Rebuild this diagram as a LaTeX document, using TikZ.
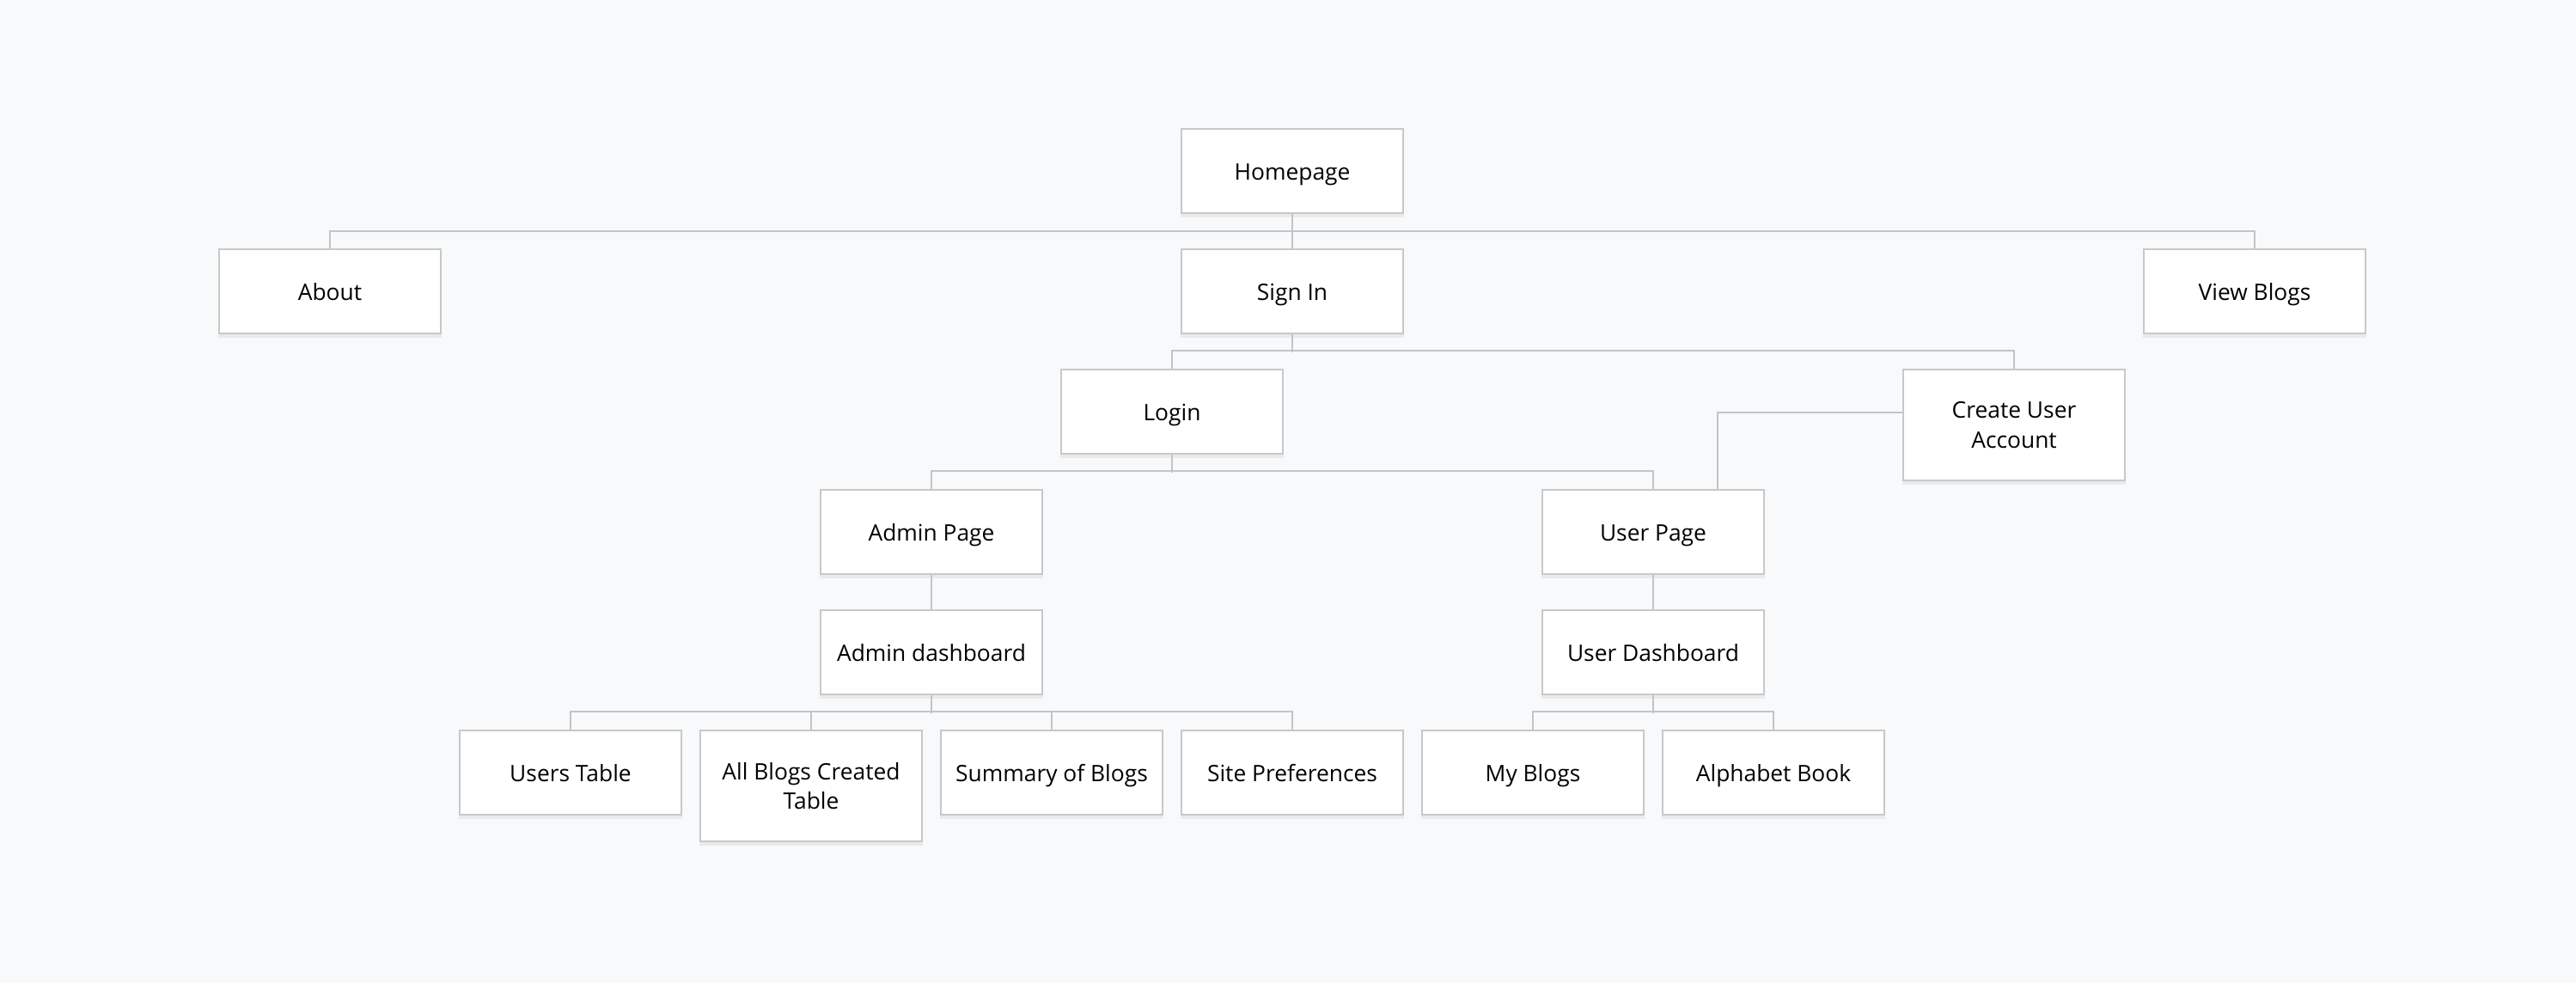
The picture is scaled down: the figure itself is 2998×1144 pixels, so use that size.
\documentclass[tikz,border=0pt]{standalone}
\usepackage{fontspec}
\setmainfont{Open Sans}
\usetikzlibrary{shadows}
\definecolor{pagebg}{HTML}{F8F9FB}
\definecolor{boxline}{HTML}{C8C8C8}
\definecolor{linkline}{HTML}{C4C4C4}
\tikzset{
  boxbase/.style={draw=boxline, line width=0.6pt, fill=white, anchor=north,
    minimum width=2.58cm, align=center,
    font=\fontsize{7.5pt}{9.9pt}\selectfont,
    drop shadow={shadow xshift=0pt, shadow yshift=-1.3pt, shadow scale=1.01, fill=black, opacity=0.06}},
  pagebox/.style={boxbase, minimum height=0.98cm, text height=8pt, text depth=2pt},
  tallbox/.style={boxbase, minimum height=1.29cm},
  link/.style={draw=linkline, line width=0.6pt}
}
\begin{document}
\begin{tikzpicture}[x=0.01cm,y=-0.01cm]
\fill[pagebg] (0,0) rectangle (2998,1144);
\useasboundingbox (0,0) rectangle (2998,1144);

% top levels
\node[pagebox] (home) at (1504,149) {Homepage};
\node[pagebox] (about) at (384,289) {About};
\node[pagebox] (signin) at (1504,289) {Sign In};
\node[pagebox] (viewblogs) at (2624,289) {View Blogs};
\node[pagebox] (login) at (1364,429) {Login};
\node[tallbox] (cua) at (2344,429) {Create User\\Account};

% admin side
\node[pagebox] (admin) at (1084,569) {Admin Page};
\node[pagebox] (admindash) at (1084,709) {Admin dashboard};
\node[pagebox] (userstable) at (664,849) {Users Table};
\node[tallbox] (allblogs) at (944,849) {All Blogs Created\\Table};
\node[pagebox] (summary) at (1224,849) {Summary of Blogs};
\node[pagebox] (siteprefs) at (1504,849) {Site Preferences};

% user side
\node[pagebox] (userpage) at (1924,569) {User Page};
\node[pagebox] (userdash) at (1924,709) {User Dashboard};
\node[pagebox] (myblogs) at (1784,849) {My Blogs};
\node[pagebox] (alphabet) at (2064,849) {Alphabet Book};

% connectors
\draw[link] (home.south) -- (signin.north);
\draw[link] (about.north) -- ++(0,-20) -| (viewblogs.north);
\draw[link] (signin.south) -- ++(0,21);
\draw[link] (login.north) -- ++(0,-21) -| (cua.north);
\draw[link] (login.south) -- ++(0,21);
\draw[link] (admin.north) -- ++(0,-21) -| (userpage.north);
\draw[link] ([yshift=-0.51cm]cua.north west) -| ([xshift=0.75cm]userpage.north);
\draw[link] (admin.south) -- (admindash.north);
\draw[link] (userpage.south) -- (userdash.north);
\draw[link] (admindash.south) -- ++(0,21);
\draw[link] (userstable.north) -- ++(0,-21) -| (siteprefs.north);
\draw[link] (allblogs.north) -- ++(0,-21);
\draw[link] (summary.north) -- ++(0,-21);
\draw[link] (userdash.south) -- ++(0,21);
\draw[link] (myblogs.north) -- ++(0,-21) -| (alphabet.north);
\end{tikzpicture}
\end{document}
